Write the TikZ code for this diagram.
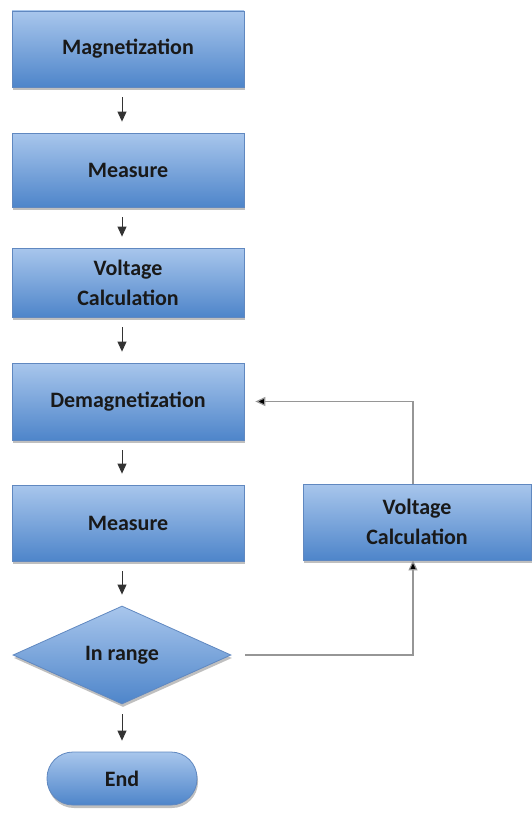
\documentclass[tikz,border=0pt]{standalone}
\usepackage{fontspec}
\setmainfont{Carlito}
\usetikzlibrary{arrows.meta,shapes.geometric,shadows}
\definecolor{boxtop}{RGB}{168,198,236}
\definecolor{boxbottom}{RGB}{78,133,202}
\definecolor{boxline}{RGB}{96,136,192}
\definecolor{backline}{RGB}{150,150,150}
\begin{document}
\begin{tikzpicture}[x=1pt,y=-1pt,
    blockshade/.style={draw=boxline,line width=0.8pt,top color=boxtop,bottom color=boxbottom,
        drop shadow={shadow xshift=1pt,shadow yshift=-3pt,opacity=0.5},
        font=\fontsize{22}{30}\selectfont\bfseries,text=black!90,align=center},
    stepbox/.style={blockshade,rectangle,minimum width=232pt,minimum height=#1},
    stepbox/.default=76pt,
    decide/.style={blockshade,diamond,minimum width=218pt,minimum height=98pt,inner sep=0pt},
    stopbox/.style={blockshade,rectangle,rounded corners=26pt,minimum width=150pt,minimum height=53pt},
    flow/.style={draw=black!80,line width=0.9pt,-{Triangle[length=10pt,width=9pt]},shorten <=10pt,shorten >=11pt},
    back/.style={draw=backline,line width=1.2pt,-{Triangle[length=10pt,width=9pt,fill=black]}}]
    \useasboundingbox (0,0) rectangle (531,816);
    % main column
    \node[stepbox] (mag) at (128,49) {Magnetization};
    \node[stepbox=74pt] (meas) at (128,170) {Measure};
    \node[stepbox=69pt] (volt) at (128,282.5) {Voltage\\Calculation};
    \node[stepbox=77pt] (demag) at (128,401.5) {Demagnetization};
    \node[stepbox] (meas2) at (128,523) {Measure};
    \node[decide] (range) at (122,655) {In range};
    \node[stopbox] (end) at (122,778.5) {End};
    % side branch
    \node[stepbox,minimum width=228pt] (volt2) at (417,522) {Voltage\\Calculation};
    % arrows down the column
    \draw[flow] (mag.south -| range.north) -- (meas.north -| range.north);
    \draw[flow] (meas.south -| range.north) -- (volt.north -| range.north);
    \draw[flow] (volt.south -| range.north) -- (demag.north -| range.north);
    \draw[flow] (demag.south -| range.north) -- (meas2.north -| range.north);
    \draw[flow] (meas2.south -| range.north) -- (range.north);
    \draw[flow] (range.south) -- (end.north);
    % loop back
    \draw[back,shorten <=14pt] (range.east) -| ([xshift=-4pt]volt2.south);
    \draw[back,shorten >=11pt] ([xshift=-4pt]volt2.north) |- (demag.east);
\end{tikzpicture}
\end{document}
